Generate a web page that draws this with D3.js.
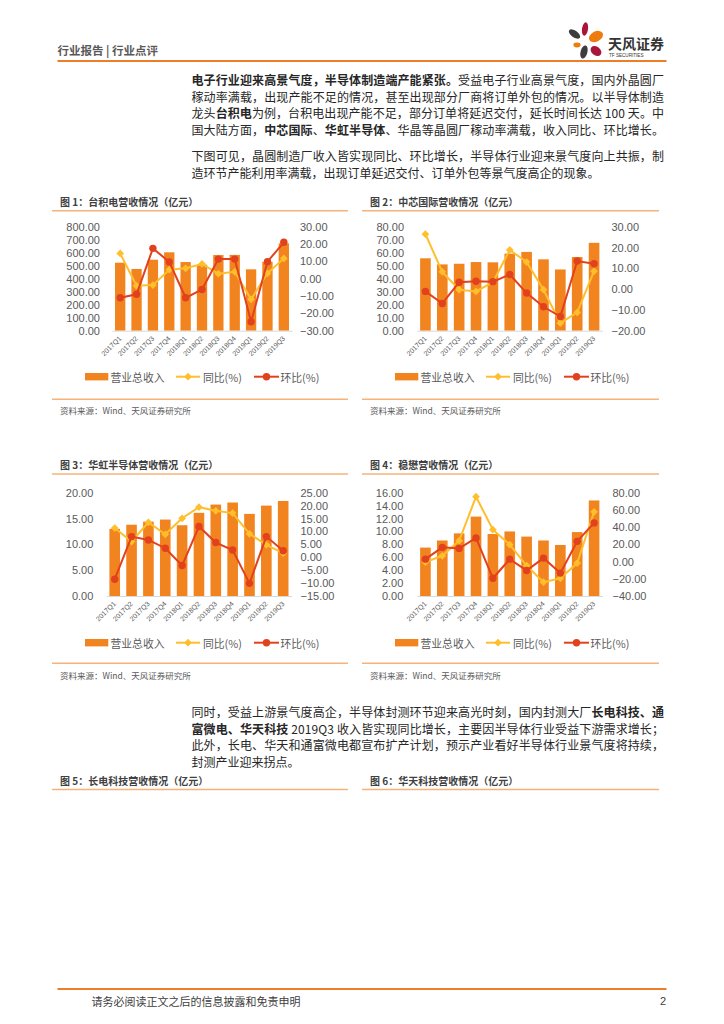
<!DOCTYPE html>
<html><head><meta charset="utf-8">
<script src="https://cdn.jsdelivr.net/npm/d3@7"></script>
<style>
html,body{margin:0;padding:0;background:#fff;}
svg{display:block;}
text{font-family:"Liberation Sans","Noto Sans CJK SC",sans-serif;}
.cjk{font-family:"Noto Sans CJK SC","Liberation Sans",sans-serif;}
</style></head>
<body>
<svg id="page" width="724" height="1024"></svg>
<script>
// ---------------- DATA ----------------
const quarters = ["2017Q1","2017Q2","2017Q3","2017Q4","2018Q1","2018Q2","2018Q3","2018Q4","2019Q1","2019Q2","2019Q3"];
const legendLabels = ["营业总收入","同比(%)","环比(%)"];

const tsmcRevenue = [523,475,546,603,528,508,582,583,472,530,672];
const tsmcYoY     = [14.6,-4.1,-3.7,5.2,6.0,8.5,2.9,4.0,-11.9,3.1,11.7];
const tsmcQoQ     = [-11.0,-9.0,17.5,9.7,-11.0,-6.2,11.3,11.3,-24.8,9.8,21.0];
const tsmcLeftTicks  = [0,100,200,300,400,500,600,700,800];
const tsmcRightTicks = [-30,-20,-10,0,10,20,30];

const smicRevenue = [55.7,51.0,51.5,52.8,52.6,59.3,60.6,54.9,47.1,56.7,67.6];
const smicYoY     = [26.4,8.3,-0.3,-1.1,3.3,18.8,13.0,-0.3,-16.4,-11.2,8.6];
const smicQoQ     = [-1.1,-6.9,3.3,3.8,3.5,7.0,-1.9,-8.5,-13.2,13.5,12.2];
const smicLeftTicks  = [0,10,20,30,40,50,60,70,80];
const smicRightTicks = [-20,-10,0,10,20,30];

const hhRevenue = [13.0,13.8,14.4,14.8,13.7,16.1,17.7,18.1,15.9,17.5,18.4];
const hhYoY     = [11.3,6.1,13.5,8.9,15.1,19.4,18.0,17.1,9.1,4.8,1.6];
const hhQoQ     = [-8.5,8.0,6.7,3.5,-3.2,11.9,5.7,2.8,-10.1,8.0,2.5];
const hhLeftTicks  = [0,5,10,15,20];
const hhRightTicks = [-15,-10,-5,0,5,10,15,20,25];

const winRevenue = [7.5,8.6,9.7,12.3,9.6,10.0,9.2,8.6,7.9,9.9,14.8];
const winYoY     = [-0.7,6.7,24.2,75.3,37.1,19.6,-4.6,-24.0,-19.4,-1.8,57.8];
const winQoQ     = [2.8,16.5,15.3,27.4,-19.4,2.8,-10.4,4.0,-13.4,23.5,44.9];
const winLeftTicks  = [0,2,4,6,8,10,12,14,16];
const winRightTicks = [-40,-20,0,20,40,60,80];

// ---------------- STYLE ----------------
const C = {bar:"#F28420", yoy:"#FFBE2B", qoq:"#E2411D", axisText:"#595959",
           panelLine:"#F7B27A", headLine:"#EC7E2A", body:"#262626"};

const svg = d3.select("#page");
svg.append("rect").attr("width",724).attr("height",1024).attr("fill","#fff");

// ---------------- HEADER ----------------
svg.append("text").attr("class","cjk").attr("x",57.5).attr("y",50)
  .attr("dominant-baseline","central").attr("font-size",11.5).attr("font-weight","bold")
  .attr("fill","#595959").text("行业报告 | 行业点评");
svg.append("line").attr("x1",57.5).attr("x2",666.5).attr("y1",61).attr("y2",61)
  .attr("stroke",C.headLine).attr("stroke-width",1.8);

// logo petals
const petals = [
  {cx:574.5,cy:34,rx:6.5,ry:3.4,r:35,c:"#3D3D3D"},
  {cx:585,cy:29,rx:3,ry:6.8,r:8,c:"#A8163A"},
  {cx:596,cy:36.5,rx:7.5,ry:5,r:-28,c:"#EE7B0F"},
  {cx:577,cy:45,rx:3.6,ry:2.4,r:0,c:"#EE7B0F"},
  {cx:584,cy:52,rx:3.4,ry:6.6,r:15,c:"#3D3D3D"},
  {cx:596,cy:51,rx:6,ry:4.4,r:40,c:"#A8163A"}
];
svg.append("g").selectAll("ellipse").data(petals).join("ellipse")
  .attr("cx",d=>d.cx).attr("cy",d=>d.cy).attr("rx",d=>d.rx).attr("ry",d=>d.ry)
  .attr("transform",d=>`rotate(${d.r},${d.cx},${d.cy})`).attr("fill",d=>d.c);
svg.append("text").attr("class","cjk").attr("x",608).attr("y",48.5)
  .attr("font-size",14).attr("font-weight","bold")
  .attr("fill","#333").text("天风证券");
svg.append("text").attr("x",609).attr("y",57.2)
  .attr("font-size",4.6).attr("fill","#333").text("TF SECURITIES");

// ---------------- BODY TEXT ----------------
const textLeft = 191.5, textWidth = 472.5;
function drawLines(lines, y0, step, justifyCount){
  lines.forEach((segs,i)=>{
    const t = svg.append("text").attr("class","cjk").attr("x",textLeft).attr("y",y0+i*step)
      .attr("dominant-baseline","central").attr("font-size",12).attr("fill",C.body);
    segs.forEach(s=>t.append("tspan").attr("font-weight",s[1]?"bold":"normal").text(s[0]));
    if(i<justifyCount){ t.attr("textLength",textWidth).attr("lengthAdjust","spacing"); }
  });
}
drawLines([
  [["电子行业迎来高景气度，半导体制造端产能紧张。",1],["受益电子行业高景气度，国内外晶圆厂",0]],
  [["稼动率满载，出现产能不足的情况，甚至出现部分厂商将订单外包的情况。以半导体制造",0]],
  [["龙头",0],["台积电",1],["为例，台积电出现产能不足，部分订单将延迟交付，延长时间长达 100 天。中",0]],
  [["国大陆方面，",0],["中芯国际",1],["、",0],["华虹半导体",1],["、华晶等晶圆厂稼动率满载，收入同比、环比增长。",0]]
], 79, 16.5, 4);
drawLines([
  [["下图可见，晶圆制造厂收入皆实现同比、环比增长，半导体行业迎来景气度向上共振，制",0]],
  [["造环节产能利用率满载，出现订单延迟交付、订单外包等景气度高企的现象。",0]]
], 155, 16.7, 1);
drawLines([
  [["同时，受益上游景气度高企，半导体封测环节迎来高光时刻，国内封测大厂",0],["长电科技、通",1]],
  [["富微电、华天科技",1],[" 2019Q3 收入皆实现同比增长，主要因半导体行业受益下游需求增长；",0]],
  [["此外，长电、华天和通富微电都宣布扩产计划，预示产业看好半导体行业景气度将持续，",0]],
  [["封测产业迎来拐点。",0]]
], 711, 16.7, 3);

// ---------------- CHARTS ----------------
const row1 = {titleY:201, lineY:210.7, yTop:226.7, yBottom:330.7, legendY:376.7, botLine:399.3, sourceY:410};
const row2 = {titleY:464, lineY:474, yTop:492.7, yBottom:596, legendY:642.7, botLine:663.3, sourceY:675};

const charts = [
  {title:"图 1：台积电营收情况（亿元）", rev:tsmcRevenue, yoy:tsmcYoY, qoq:tsmcQoQ,
   lt:tsmcLeftTicks, rt:tsmcRightTicks, x0:52, x1:348, plotL:112, plotR:292, leftLab:100, rightLab:300, row:row1},
  {title:"图 2：中芯国际营收情况（亿元）", rev:smicRevenue, yoy:smicYoY, qoq:smicQoQ,
   lt:smicLeftTicks, rt:smicRightTicks, x0:362, x1:659, plotL:417, plotR:602.5, leftLab:404, rightLab:611.5, row:row1},
  {title:"图 3：华虹半导体营收情况（亿元）", rev:hhRevenue, yoy:hhYoY, qoq:hhQoQ,
   lt:hhLeftTicks, rt:hhRightTicks, x0:52, x1:348, plotL:106.3, plotR:291.6, leftLab:93.3, rightLab:300.5, row:row2},
  {title:"图 4：稳懋营收情况（亿元）", rev:winRevenue, yoy:winYoY, qoq:winQoQ,
   lt:winLeftTicks, rt:winRightTicks, x0:362, x1:659, plotL:417, plotR:602.5, leftLab:403.3, rightLab:612.5, row:row2}
];

const fmt = d3.format(".2f");

function drawChart(cfg){
  const r = cfg.row;
  const g = svg.append("g");
  g.append("text").attr("class","cjk").attr("x",cfg.x0+8).attr("y",r.titleY)
    .attr("dominant-baseline","central").attr("font-size",10).attr("font-weight","bold")
    .attr("fill","#404040").text(cfg.title);
  g.append("line").attr("x1",cfg.x0).attr("x2",cfg.x1).attr("y1",r.lineY).attr("y2",r.lineY)
    .attr("stroke",C.panelLine).attr("stroke-width",1.5);

  const x = d3.scaleBand().domain(quarters).range([cfg.plotL,cfg.plotR])
    .paddingInner(0.37).paddingOuter(0.185);
  const yL = d3.scaleLinear().domain(d3.extent(cfg.lt)).range([r.yBottom,r.yTop]);
  const yR = d3.scaleLinear().domain(d3.extent(cfg.rt)).range([r.yBottom,r.yTop]);

  const ax = g.append("g").attr("transform",`translate(${cfg.leftLab},0)`)
    .call(d3.axisLeft(yL).tickValues(cfg.lt).tickFormat(fmt).tickSize(0).tickPadding(0));
  const ar = g.append("g").attr("transform",`translate(${cfg.rightLab},0)`)
    .call(d3.axisRight(yR).tickValues(cfg.rt).tickFormat(fmt).tickSize(0).tickPadding(0));
  [ax,ar].forEach(a=>{
    a.select(".domain").remove();
    a.selectAll("text").attr("font-size",11).attr("fill",C.axisText)
      .attr("font-family","Liberation Sans, sans-serif");
  });

  // bars
  g.append("g").selectAll("rect").data(cfg.rev).join("rect")
    .attr("x",(d,i)=>x(quarters[i])).attr("width",x.bandwidth())
    .attr("y",d=>yL(d)).attr("height",d=>yL(0)-yL(d)).attr("fill",C.bar);

  // x axis
  const xa = g.append("g").attr("transform",`translate(0,${r.yBottom})`)
    .call(d3.axisBottom(x).tickSize(0));
  xa.select(".domain").attr("stroke","#D9D9D9").attr("stroke-width",1);
  xa.selectAll("text").attr("font-size",7).attr("fill",C.axisText)
    .attr("font-family","Liberation Sans, sans-serif")
    .attr("text-anchor","end").attr("x",0).attr("y",0).attr("dy","0.35em")
    .attr("transform","translate(0,6.5) rotate(-45)");

  const cx = i => x(quarters[i]) + x.bandwidth()/2;
  // yoy line
  g.append("path").datum(cfg.yoy)
    .attr("d", d3.line().x((d,i)=>cx(i)).y(d=>yR(d)))
    .attr("fill","none").attr("stroke",C.yoy).attr("stroke-width",2);
  g.append("g").selectAll("path").data(cfg.yoy).join("path")
    .attr("d", d3.symbol(d3.symbolSquare, 30)())
    .attr("transform",(d,i)=>`translate(${cx(i)},${yR(d)}) rotate(45)`)
    .attr("fill",C.yoy);
  // qoq line
  g.append("path").datum(cfg.qoq)
    .attr("d", d3.line().x((d,i)=>cx(i)).y(d=>yR(d)))
    .attr("fill","none").attr("stroke",C.qoq).attr("stroke-width",2);
  g.append("g").selectAll("circle").data(cfg.qoq).join("circle")
    .attr("cx",(d,i)=>cx(i)).attr("cy",d=>yR(d)).attr("r",3.7).attr("fill",C.qoq);

  // legend
  const ly = r.legendY, lx = cfg.x0;
  g.append("rect").attr("x",lx+33).attr("y",ly-3.7).attr("width",23.3).attr("height",7.4).attr("fill",C.bar);
  g.append("line").attr("x1",lx+124).attr("x2",lx+148).attr("y1",ly).attr("y2",ly)
    .attr("stroke",C.yoy).attr("stroke-width",2);
  g.append("path").attr("d",d3.symbol(d3.symbolSquare,30)())
    .attr("transform",`translate(${lx+136},${ly}) rotate(45)`).attr("fill",C.yoy);
  g.append("line").attr("x1",lx+202).attr("x2",lx+227).attr("y1",ly).attr("y2",ly)
    .attr("stroke",C.qoq).attr("stroke-width",2);
  g.append("circle").attr("cx",lx+214.5).attr("cy",ly).attr("r",3.7).attr("fill",C.qoq);
  const ltx = [lx+58.5, lx+151, lx+228.5];
  legendLabels.forEach((t,i)=>{
    g.append("text").attr("class","cjk").attr("x",ltx[i]).attr("y",ly)
      .attr("dominant-baseline","central").attr("font-size",10.8).attr("fill",C.axisText).text(t);
  });

  g.append("line").attr("x1",cfg.x0).attr("x2",cfg.x1).attr("y1",r.botLine).attr("y2",r.botLine)
    .attr("stroke",C.panelLine).attr("stroke-width",1.5);
  g.append("text").attr("class","cjk").attr("x",cfg.x0+8).attr("y",r.sourceY)
    .attr("dominant-baseline","central").attr("font-size",8.5).attr("fill","#595959")
    .text("资料来源：Wind、天风证券研究所");
}
charts.forEach(drawChart);

// figures 5 & 6 titles
[["图 5：长电科技营收情况（亿元）",52,348],["图 6：华天科技营收情况（亿元）",362,659]].forEach(f=>{
  svg.append("text").attr("class","cjk").attr("x",f[1]+8).attr("y",780)
    .attr("dominant-baseline","central").attr("font-size",10).attr("font-weight","bold")
    .attr("fill","#404040").text(f[0]);
  svg.append("line").attr("x1",f[1]).attr("x2",f[2]).attr("y1",789.5).attr("y2",789.5)
    .attr("stroke",C.panelLine).attr("stroke-width",1.5);
});

// ---------------- FOOTER ----------------
svg.append("line").attr("x1",57.5).attr("x2",666.5).attr("y1",989).attr("y2",989)
  .attr("stroke",C.headLine).attr("stroke-width",2);
svg.append("text").attr("class","cjk").attr("x",91.5).attr("y",1001)
  .attr("dominant-baseline","central").attr("font-size",11).attr("fill","#404040")
  .text("请务必阅读正文之后的信息披露和免责申明");
svg.append("text").attr("x",666).attr("y",1001).attr("text-anchor","end")
  .attr("dominant-baseline","central").attr("font-size",11).attr("fill","#404040").text("2");
</script>
</body></html>
